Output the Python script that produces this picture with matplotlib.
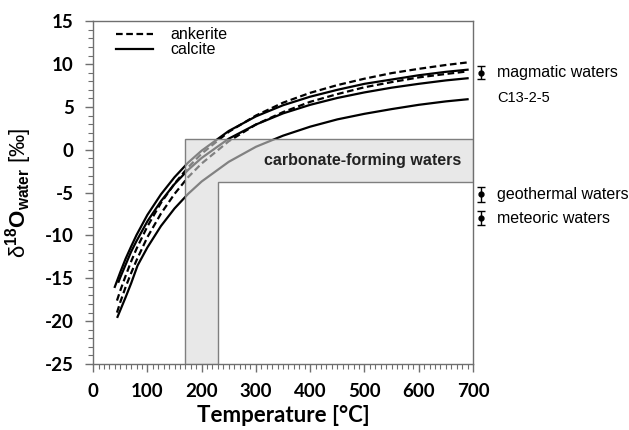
import numpy as np
import matplotlib
matplotlib.use("Agg")
import matplotlib.pyplot as plt
from matplotlib.patches import Polygon
from matplotlib.ticker import MultipleLocator

# fonts: ticks look like Calibri bold, annotations like Arial
plt.rcParams['font.family'] = ['Liberation Sans', 'DejaVu Sans']
plt.rcParams['mathtext.fontset'] = 'custom'
plt.rcParams['mathtext.rm'] = 'Liberation Sans'
plt.rcParams['mathtext.bf'] = 'Liberation Sans:bold'
plt.rcParams['mathtext.it'] = 'Liberation Sans:italic'
plt.rcParams['axes.unicode_minus'] = False

# ---------------------------- data ----------------------------
# calcite (solid)
temp_cal_a = [40, 50, 60, 70, 80, 100, 125, 150, 175, 200, 250, 300, 350, 400, 450, 500, 550, 600, 650, 690]
d18o_cal_a = [-16.0, -14.3, -12.7, -11.3, -9.95, -7.6, -5.2, -3.2, -1.5, -0.1, 2.2, 3.9, 5.2, 6.2, 7.0, 7.7, 8.2, 8.7, 9.1, 9.35]

temp_cal_b = [47, 50, 60, 70, 80, 100, 125, 150, 175, 200, 250, 300, 350, 400, 450, 500, 550, 600, 650, 690]
d18o_cal_b = [-15.4, -14.9, -13.4, -11.9, -10.65, -8.35, -6.0, -4.0, -2.35, -0.95, 1.3, 2.95, 4.25, 5.25, 6.05, 6.7, 7.25, 7.7, 8.1, 8.35]

# C13-2-5 (solid, lowest curve with the kink)
temp_c13 = [45, 60, 70, 82, 100, 125, 150, 175, 200, 250, 300, 350, 400, 450, 500, 550, 600, 650, 690]
d18o_c13 = [-19.5, -17.2, -15.6, -13.5, -11.4, -8.9, -6.85, -5.15, -3.7, -1.4, 0.35, 1.65, 2.7, 3.55, 4.2, 4.75, 5.25, 5.65, 5.9]

# ankerite (dashed)
temp_ank_a = [44, 50, 60, 70, 80, 100, 125, 150, 175, 200, 250, 300, 350, 400, 450, 500, 550, 600, 650, 690]
d18o_ank_a = [-17.6, -16.45, -14.7, -13.05, -11.55, -8.95, -6.2, -3.95, -2.05, -0.45, 2.1, 4.0, 5.5, 6.65, 7.55, 8.3, 8.95, 9.45, 9.9, 10.2]

temp_ank_b = [44, 50, 60, 70, 80, 100, 125, 150, 175, 200, 250, 300, 350, 400, 450, 500, 550, 600, 650, 690]
d18o_ank_b = [-19.0, -17.8, -16.0, -14.4, -12.9, -10.2, -7.45, -5.15, -3.2, -1.6, 1.0, 2.95, 4.4, 5.6, 6.5, 7.3, 7.9, 8.45, 8.85, 9.15]

# carbonate-forming waters window (T range and d18O range)
band_temp = [170, 230]
band_d18o = [-3.8, 1.3]

# reference water reservoirs on the right
water_names = ['magmatic waters', 'geothermal waters', 'meteoric waters']
water_d18o = [9.0, -5.2, -8.0]
water_err = [0.75, 0.85, 0.8]

# -------------------------------- figure --------------------------------
fig = plt.figure(figsize=(6.29, 4.30), dpi=100)
ax = fig.add_axes([0.148, 0.1535, 0.604, 0.797])

lw = 1.6
ax.plot(temp_ank_a, d18o_ank_a, color='k', lw=lw, ls=(0, (3, 1.6)), label='ankerite')
ax.plot(temp_ank_b, d18o_ank_b, color='k', lw=lw, ls=(0, (3, 1.6)))
ax.plot(temp_cal_a, d18o_cal_a, color='k', lw=lw, label='calcite')
ax.plot(temp_cal_b, d18o_cal_b, color='k', lw=lw)
ax.plot(temp_c13, d18o_c13, color='k', lw=lw)

# L-shaped shaded window, drawn over the curves
t0, t1 = band_temp
w0, w1 = band_d18o
verts = [(t0, -25), (t0, w1), (700, w1), (700, w0), (t1, w0), (t1, -25)]
band = Polygon(verts, closed=True, facecolor=(0.85, 0.85, 0.85, 0.6),
               edgecolor='#7f7f7f', lw=1.0, zorder=3)
ax.add_patch(band)
ax.text(497, (w0 + w1) / 2, 'carbonate-forming waters', ha='center', va='center',
        fontsize=11.5, fontweight='bold', color='#222222', zorder=4)

# water reservoirs outside the axes
for name, val, err in zip(water_names, water_d18o, water_err):
    eb = ax.errorbar([715], [val], yerr=err, fmt='o', ms=3.5, color='k',
                     capsize=3, elinewidth=1.0, capthick=1.0)
    for art in eb.get_children():
        art.set_clip_on(False)
    ax.text(745, val, name, ha='left', va='center', fontsize=11.5)

ax.text(745, 6.0, 'C13-2-5', ha='left', va='center', fontsize=10.5)

# axes
ax.set_xlim(0, 700)
ax.set_ylim(-25, 15)
ax.xaxis.set_major_locator(MultipleLocator(100))
ax.xaxis.set_minor_locator(MultipleLocator(10))
ax.yaxis.set_major_locator(MultipleLocator(5))
ax.yaxis.set_minor_locator(MultipleLocator(1))
for sp in ax.spines.values():
    sp.set_color('#6f6f6f')
    sp.set_linewidth(1.0)
ax.tick_params(which='major', direction='out', length=6, width=1.0, color='#6f6f6f', pad=8)
ax.tick_params(which='minor', direction='out', length=3.5, width=0.8, color='#6f6f6f')
for lab in ax.get_xticklabels() + ax.get_yticklabels():
    lab.set_family(['Lato', 'DejaVu Sans'])
    lab.set_fontweight('bold')
    lab.set_fontsize(13.5)

ax.set_xlabel('Temperature [°C]', family=['Lato', 'DejaVu Sans'], fontweight='bold',
              fontsize=16, labelpad=3)
ax.set_ylabel(r'δ$^{\mathbf{18}}$$\mathbf{O}_{\mathbf{water}}$ [‰]', fontsize=16, labelpad=8)

ax.legend(loc='upper left', bbox_to_anchor=(0.035, 1.01), frameon=False, fontsize=11.5,
          handlelength=2.3, handletextpad=1.1, labelspacing=0.0, borderaxespad=0.2)

fig.savefig('out.png', dpi=100)
